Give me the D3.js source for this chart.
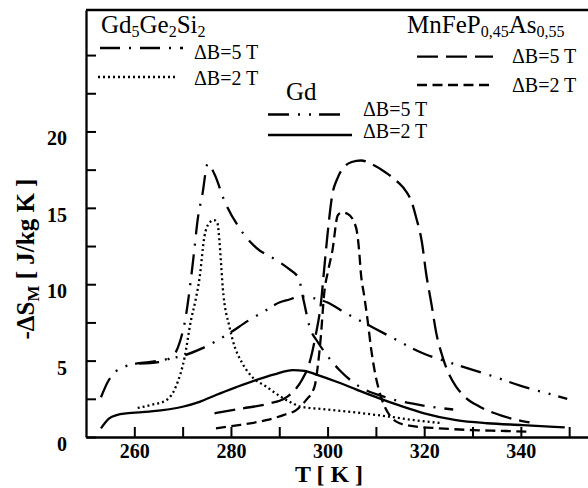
<!DOCTYPE html>
<html><head><meta charset="utf-8">
<script src="https://cdn.jsdelivr.net/npm/d3@7"></script>
<style>body{margin:0;background:#fff}svg{display:block}text{font-family:"Liberation Serif","DejaVu Serif",serif;fill:#000}</style>
</head><body><svg id="c" width="588" height="488"></svg>
<script>
// ---- data ----
const xTicks = [260, 270, 280, 290, 300, 310, 320, 330, 340, 350];
const xTickLabels = ["260", "", "280", "", "300", "", "320", "", "340", ""];
const yTicks = [0, 2.5, 5, 7.5, 10, 12.5, 15, 17.5, 20, 22.5, 25];
const yTickLabels = ["0", "", "5", "", "10", "", "15", "", "20", "", ""];

const gdgesi5T_T = [261, 265, 268, 269.5, 270.5, 271.7, 272.4, 273.1, 274.1, 275.2, 276.6, 278.6, 281.7, 285.2, 289.3, 292, 294, 295, 296.3, 298, 300, 302.4, 306.6, 312, 319, 326];
const gdgesi5T_v = [4.8, 4.9, 5.3, 6.3, 7.6, 10.3, 12.2, 14.2, 15.9, 17.9, 17.2, 15.5, 13.7, 12.4, 11.6, 11.0, 10.4, 9.0, 7.2, 6.2, 5.3, 4.4, 3.3, 2.6, 2.1, 1.8];

const gdgesi2T_T = [260.7, 263.5, 266.6, 268.6, 270.4, 271.7, 272.7, 273.5, 274.5, 275.5, 276.5, 277.2, 277.6, 277.9, 278.3, 279.7, 280.4, 282.4, 284.5, 287.3, 290, 292.8, 294.2, 300, 306, 312.8, 318, 323.8];
const gdgesi2T_v = [1.9, 2.1, 2.4, 3.3, 5.2, 7.6, 9.0, 10.4, 13.1, 14.0, 14.2, 14.0, 12.9, 11.6, 9.8, 7.2, 6.3, 4.8, 3.9, 3.3, 2.7, 2.2, 2.0, 1.8, 1.6, 1.33, 1.1, 0.9];

const gd5T_T = [253.1, 254.5, 256.2, 258, 260.3, 263, 266.8, 270.4, 274, 279.7, 283.5, 287.3, 290, 292.1, 294.2, 297, 300, 303.8, 308, 312.8, 319.6, 326, 333.5, 340, 345, 349.6];
const gd5T_v = [2.6, 3.6, 4.3, 4.6, 4.8, 4.9, 5.1, 5.35, 5.8, 6.8, 7.6, 8.3, 8.8, 9.0, 9.2, 9.1, 8.8, 8.1, 7.4, 6.6, 5.5, 4.8, 4.05, 3.35, 2.9, 2.5];

const gd2T_T = [253.1, 254, 254.8, 256.5, 258.3, 263.1, 270, 273.5, 276.9, 281, 285.2, 289, 292.8, 295.2, 298, 302, 306, 310.7, 315, 320, 326.6, 333, 340.4, 349.1];
const gd2T_v = [0.57, 0.95, 1.22, 1.45, 1.55, 1.66, 1.98, 2.3, 2.75, 3.25, 3.73, 4.1, 4.38, 4.33, 4.05, 3.6, 3.1, 2.53, 2.05, 1.55, 1.1, 0.9, 0.78, 0.63];

const mn5T_T = [276.6, 282, 288, 291, 293, 294.8, 296.2, 297.5, 298.6, 299.3, 300, 301, 302, 303.5, 305, 306.9, 309.5, 312.1, 314.5, 316.2, 317.5, 318.3, 319.5, 320.4, 321.5, 322.5, 323.8, 325, 326.6, 328.5, 331.4, 336, 341.8];
const mn5T_v = [1.55, 1.85, 2.2, 2.5, 3.0, 3.8, 4.8, 6.6, 8.7, 11, 13.3, 15.9, 16.9, 17.7, 18.0, 18.1, 17.8, 17.3, 16.7, 16.1, 15.3, 14.4, 12.8, 10.7, 8.7, 6.8, 5.25, 4.2, 3.3, 2.6, 2.0, 1.4, 0.95];

const mn2T_T = [276.9, 282, 287.3, 291, 293.5, 295.5, 297.3, 298, 298.6, 299.3, 300.2, 301, 302.1, 303, 304.2, 305.9, 306.5, 306.9, 307.6, 308.3, 309, 309.7, 310.7, 311.8, 313, 314.9, 318, 323.1, 330, 336, 341.8];
const mn2T_v = [0.57, 0.8, 1.1, 1.45, 1.76, 2.4, 3.3, 4.7, 6.55, 9.4, 11, 12.2, 14.5, 14.7, 14.6, 13.7, 12.3, 10.7, 9.2, 7.6, 5.8, 4.4, 3.0, 2.0, 1.35, 0.9, 0.7, 0.57, 0.45, 0.4, 0.35];

const seriesNames = ["Gd5Ge2Si2 5T", "Gd5Ge2Si2 2T", "Gd 5T", "Gd 2T", "MnFeP 5T", "MnFeP 2T"];
const seriesT = [gdgesi5T_T, gdgesi2T_T, gd5T_T, gd2T_T, mn5T_T, mn2T_T];
const seriesV = [gdgesi5T_v, gdgesi2T_v, gd5T_v, gd2T_v, mn5T_v, mn2T_v];
const dashes = ["20,9,2,9", "2,3", "21,9,2,9,2,8", null, "21,8", "10,5.5"];

// ---- drawing ----
const FONT = "'Liberation Serif','DejaVu Serif',serif";
const svg = d3.select("#c");
const x = d3.scaleLinear().domain([250, 353.9]).range([86, 588]);
const y = d3.scaleLinear().domain([0, 27.95]).range([437, 10]);

// curves
const line = d3.line().x(d => x(d[0])).y(d => y(d[1])).curve(d3.curveMonotoneX);
seriesT.forEach((ts, i) => {
  const pts = ts.map((t, k) => [t, seriesV[i][k]]);
  const p = svg.append("path").datum(pts).attr("d", line)
    .attr("fill", "none").attr("stroke", "#000").attr("stroke-width", 2.3);
  if (dashes[i]) p.attr("stroke-dasharray", dashes[i]);
});

// axes
const xAxis = d3.axisBottom(x).tickValues(xTicks).tickSizeInner(-10).tickSizeOuter(0)
  .tickFormat((d, i) => xTickLabels[i]);
const gx = svg.append("g").attr("transform", "translate(0,437)").call(xAxis)
  .attr("font-family", FONT);
gx.select(".domain").attr("stroke-width", 2.3);
gx.selectAll(".tick line").attr("stroke-width", 2);
gx.selectAll(".tick text").attr("y", 21).attr("dy", 0).attr("font-family", FONT)
  .style("font-weight", "bold").style("font-size", "20px");

const yAxis = d3.axisLeft(y).tickValues(yTicks).tickSizeInner(-10).tickSizeOuter(0)
  .tickFormat((d, i) => yTickLabels[i]);
const gy = svg.append("g").attr("transform", "translate(86,0)").call(yAxis)
  .attr("font-family", FONT);
gy.select(".domain").attr("stroke-width", 2.3);
gy.selectAll(".tick line").attr("stroke-width", 2);
gy.selectAll(".tick text").attr("x", -19).attr("dy", "0.32em").attr("y", 7).attr("font-family", FONT)
  .style("font-weight", "bold").style("font-size", "20px");

// top frame
svg.append("line").attr("x1", 86).attr("x2", 588).attr("y1", 10).attr("y2", 10)
  .attr("stroke", "#000").attr("stroke-width", 2.3);

// axis titles
svg.append("text").attr("x", 329).attr("y", 482).attr("text-anchor", "middle").attr("font-family", FONT)
  .style("font-weight", "bold").style("font-size", "24px").text("T [ K ]");
const yl = svg.append("text").attr("transform", "translate(34,259) rotate(-90)").attr("font-family", FONT)
  .attr("text-anchor", "middle").style("font-weight", "bold").style("font-size", "25px");
yl.append("tspan").text("-ΔS");
yl.append("tspan").attr("dy", 5).style("font-size", "17px").text("M");
yl.append("tspan").attr("dy", -5).text(" [ J/kg K ]");

// legend helpers
function title(xp, yp, parts) {
  const t = svg.append("text").attr("x", xp).attr("y", yp).attr("font-family", FONT).style("font-size", "25px");
  let sub = false;
  parts.forEach(p => {
    const s = t.append("tspan").text(p);
    if (p.match(/^[0-9,]+$/)) { s.attr("dy", 4).style("font-size", "16px"); sub = true; }
    else if (sub) { s.attr("dy", -4); sub = false; }
  });
}
function entry(x1, x2, ly, dash, tx, ty, label) {
  const l = svg.append("line").attr("x1", x1).attr("x2", x2).attr("y1", ly).attr("y2", ly)
    .attr("stroke", "#000").attr("stroke-width", 2.3);
  if (dash) l.attr("stroke-dasharray", dash);
  svg.append("text").attr("x", tx).attr("y", ty).attr("font-family", FONT).style("font-size", "20px").text(label);
}
title(101, 33, ["Gd", "5", "Ge", "2", "Si", "2"]);
entry(100, 183, 48, dashes[0], 194, 59, "ΔB=5 T");
entry(98, 176, 77, dashes[1], 194, 85, "ΔB=2 T");
title(286, 100, ["Gd"]);
entry(268, 348, 114.5, dashes[2], 363, 116, "ΔB=5 T");
entry(268, 352, 135, null, 363, 138, "ΔB=2 T");
title(407, 33, ["MnFeP", "0,45", "As", "0,55"]);
entry(417, 493, 56.7, dashes[4], 512, 63, "ΔB=5 T");
entry(417, 493, 85, dashes[5], 512, 92, "ΔB=2 T");
</script></body></html>
